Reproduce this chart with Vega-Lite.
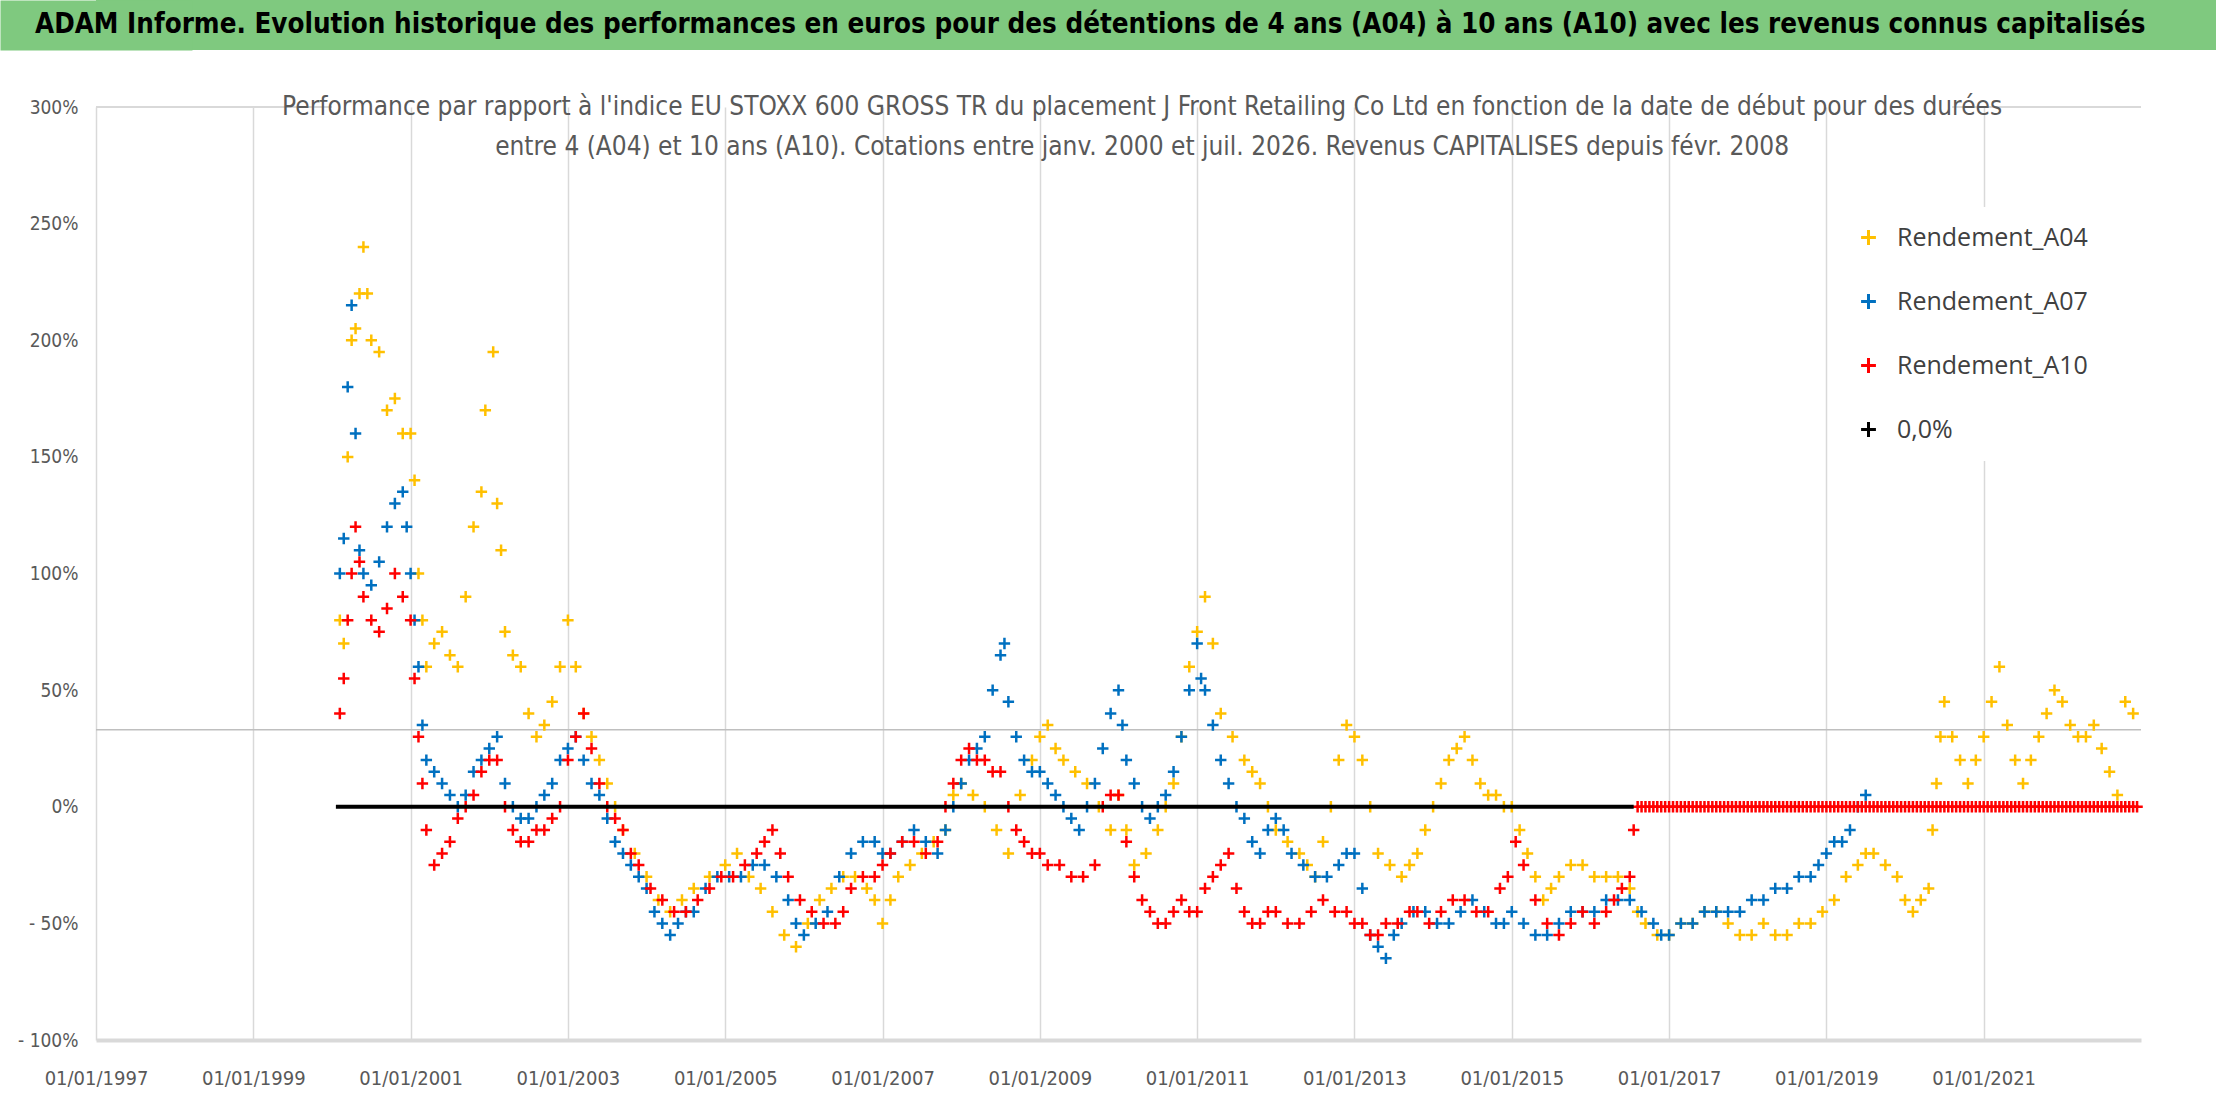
{
"$schema":"https://vega.github.io/schema/vega-lite/v6.json",
"padding":0,
"background":"white",
"spacing":44,
"config":{"view":{"stroke":null},"font":"Open Sans"},
"datasets":{
"a04":[{"t":2000.1,"v":0.8},{"t":2000.15,"v":0.7},{"t":2000.2,"v":1.5},{"t":2000.25,"v":2.0},{"t":2000.3,"v":2.05},{"t":2000.35,"v":2.2},{"t":2000.4,"v":2.4},{"t":2000.45,"v":2.2},{"t":2000.5,"v":2.0},{"t":2000.6,"v":1.95},{"t":2000.7,"v":1.7},{"t":2000.8,"v":1.75},{"t":2000.9,"v":1.6},{"t":2001.0,"v":1.6},{"t":2001.05,"v":1.4},{"t":2001.1,"v":1.0},{"t":2001.15,"v":0.8},{"t":2001.2,"v":0.6},{"t":2001.3,"v":0.7},{"t":2001.4,"v":0.75},{"t":2001.5,"v":0.65},{"t":2001.6,"v":0.6},{"t":2001.7,"v":0.9},{"t":2001.8,"v":1.2},{"t":2001.9,"v":1.35},{"t":2001.95,"v":1.7},{"t":2002.05,"v":1.95},{"t":2002.1,"v":1.3},{"t":2002.15,"v":1.1},{"t":2002.2,"v":0.75},{"t":2002.3,"v":0.65},{"t":2002.4,"v":0.6},{"t":2002.5,"v":0.4},{"t":2002.6,"v":0.3},{"t":2002.7,"v":0.35},{"t":2002.8,"v":0.45},{"t":2002.9,"v":0.6},{"t":2003.0,"v":0.8},{"t":2003.1,"v":0.6},{"t":2003.2,"v":0.4},{"t":2003.3,"v":0.3},{"t":2003.4,"v":0.2},{"t":2003.5,"v":0.1},{"t":2003.6,"v":0.0},{"t":2003.7,"v":-0.1},{"t":2003.85,"v":-0.2},{"t":2004.0,"v":-0.3},{"t":2004.15,"v":-0.4},{"t":2004.3,"v":-0.45},{"t":2004.45,"v":-0.4},{"t":2004.6,"v":-0.35},{"t":2004.8,"v":-0.3},{"t":2005.0,"v":-0.25},{"t":2005.15,"v":-0.2},{"t":2005.3,"v":-0.3},{"t":2005.45,"v":-0.35},{"t":2005.6,"v":-0.45},{"t":2005.75,"v":-0.55},{"t":2005.9,"v":-0.6},{"t":2006.05,"v":-0.5},{"t":2006.2,"v":-0.4},{"t":2006.35,"v":-0.35},{"t":2006.5,"v":-0.3},{"t":2006.65,"v":-0.3},{"t":2006.8,"v":-0.35},{"t":2006.9,"v":-0.4},{"t":2007.0,"v":-0.5},{"t":2007.1,"v":-0.4},{"t":2007.2,"v":-0.3},{"t":2007.35,"v":-0.25},{"t":2007.5,"v":-0.2},{"t":2007.65,"v":-0.15},{"t":2007.8,"v":-0.1},{"t":2007.9,"v":0.05},{"t":2008.0,"v":0.1},{"t":2008.15,"v":0.05},{"t":2008.3,"v":0.0},{"t":2008.45,"v":-0.1},{"t":2008.6,"v":-0.2},{"t":2008.75,"v":0.05},{"t":2008.9,"v":0.2},{"t":2009.0,"v":0.3},{"t":2009.1,"v":0.35},{"t":2009.2,"v":0.25},{"t":2009.3,"v":0.2},{"t":2009.45,"v":0.15},{"t":2009.6,"v":0.1},{"t":2009.75,"v":0.0},{"t":2009.9,"v":-0.1},{"t":2010.0,"v":0.05},{"t":2010.1,"v":-0.1},{"t":2010.2,"v":-0.25},{"t":2010.35,"v":-0.2},{"t":2010.5,"v":-0.1},{"t":2010.6,"v":0.0},{"t":2010.7,"v":0.1},{"t":2010.8,"v":0.3},{"t":2010.9,"v":0.6},{"t":2011.0,"v":0.75},{"t":2011.1,"v":0.9},{"t":2011.2,"v":0.7},{"t":2011.3,"v":0.4},{"t":2011.45,"v":0.3},{"t":2011.6,"v":0.2},{"t":2011.7,"v":0.15},{"t":2011.8,"v":0.1},{"t":2011.9,"v":0.0},{"t":2012.0,"v":-0.1},{"t":2012.15,"v":-0.15},{"t":2012.3,"v":-0.2},{"t":2012.4,"v":-0.25},{"t":2012.5,"v":-0.3},{"t":2012.6,"v":-0.15},{"t":2012.7,"v":0.0},{"t":2012.8,"v":0.2},{"t":2012.9,"v":0.35},{"t":2013.0,"v":0.3},{"t":2013.1,"v":0.2},{"t":2013.2,"v":0.0},{"t":2013.3,"v":-0.2},{"t":2013.45,"v":-0.25},{"t":2013.6,"v":-0.3},{"t":2013.7,"v":-0.25},{"t":2013.8,"v":-0.2},{"t":2013.9,"v":-0.1},{"t":2014.0,"v":0.0},{"t":2014.1,"v":0.1},{"t":2014.2,"v":0.2},{"t":2014.3,"v":0.25},{"t":2014.4,"v":0.3},{"t":2014.5,"v":0.2},{"t":2014.6,"v":0.1},{"t":2014.7,"v":0.05},{"t":2014.8,"v":0.05},{"t":2014.9,"v":0.0},{"t":2015.0,"v":0.0},{"t":2015.1,"v":-0.1},{"t":2015.2,"v":-0.2},{"t":2015.3,"v":-0.3},{"t":2015.4,"v":-0.4},{"t":2015.5,"v":-0.35},{"t":2015.6,"v":-0.3},{"t":2015.75,"v":-0.25},{"t":2015.9,"v":-0.25},{"t":2016.05,"v":-0.3},{"t":2016.2,"v":-0.3},{"t":2016.35,"v":-0.3},{"t":2016.5,"v":-0.35},{"t":2016.6,"v":-0.45},{"t":2016.7,"v":-0.5},{"t":2016.85,"v":-0.55},{"t":2017.0,"v":-0.55},{"t":2017.15,"v":-0.5},{"t":2017.3,"v":-0.5},{"t":2017.45,"v":-0.45},{"t":2017.6,"v":-0.45},{"t":2017.75,"v":-0.5},{"t":2017.9,"v":-0.55},{"t":2018.05,"v":-0.55},{"t":2018.2,"v":-0.5},{"t":2018.35,"v":-0.55},{"t":2018.5,"v":-0.55},{"t":2018.65,"v":-0.5},{"t":2018.8,"v":-0.5},{"t":2018.95,"v":-0.45},{"t":2019.1,"v":-0.4},{"t":2019.25,"v":-0.3},{"t":2019.4,"v":-0.25},{"t":2019.5,"v":-0.2},{"t":2019.6,"v":-0.2},{"t":2019.75,"v":-0.25},{"t":2019.9,"v":-0.3},{"t":2020.0,"v":-0.4},{"t":2020.1,"v":-0.45},{"t":2020.2,"v":-0.4},{"t":2020.3,"v":-0.35},{"t":2020.35,"v":-0.1},{"t":2020.4,"v":0.1},{"t":2020.45,"v":0.3},{"t":2020.5,"v":0.45},{"t":2020.6,"v":0.3},{"t":2020.7,"v":0.2},{"t":2020.8,"v":0.1},{"t":2020.9,"v":0.2},{"t":2021.0,"v":0.3},{"t":2021.1,"v":0.45},{"t":2021.2,"v":0.6},{"t":2021.3,"v":0.35},{"t":2021.4,"v":0.2},{"t":2021.5,"v":0.1},{"t":2021.6,"v":0.2},{"t":2021.7,"v":0.3},{"t":2021.8,"v":0.4},{"t":2021.9,"v":0.5},{"t":2022.0,"v":0.45},{"t":2022.1,"v":0.35},{"t":2022.2,"v":0.3},{"t":2022.3,"v":0.3},{"t":2022.4,"v":0.35},{"t":2022.5,"v":0.25},{"t":2022.6,"v":0.15},{"t":2022.7,"v":0.05},{"t":2022.8,"v":0.45},{"t":2022.9,"v":0.4}],
"a07":[{"t":2000.1,"v":1.0},{"t":2000.15,"v":1.15},{"t":2000.2,"v":1.8},{"t":2000.25,"v":2.15},{"t":2000.3,"v":1.6},{"t":2000.35,"v":1.1},{"t":2000.4,"v":1.0},{"t":2000.5,"v":0.95},{"t":2000.6,"v":1.05},{"t":2000.7,"v":1.2},{"t":2000.8,"v":1.3},{"t":2000.9,"v":1.35},{"t":2000.95,"v":1.2},{"t":2001.0,"v":1.0},{"t":2001.05,"v":0.8},{"t":2001.1,"v":0.6},{"t":2001.15,"v":0.35},{"t":2001.2,"v":0.2},{"t":2001.3,"v":0.15},{"t":2001.4,"v":0.1},{"t":2001.5,"v":0.05},{"t":2001.6,"v":0.0},{"t":2001.7,"v":0.05},{"t":2001.8,"v":0.15},{"t":2001.9,"v":0.2},{"t":2002.0,"v":0.25},{"t":2002.1,"v":0.3},{"t":2002.2,"v":0.1},{"t":2002.3,"v":0.0},{"t":2002.4,"v":-0.05},{"t":2002.5,"v":-0.05},{"t":2002.6,"v":0.0},{"t":2002.7,"v":0.05},{"t":2002.8,"v":0.1},{"t":2002.9,"v":0.2},{"t":2003.0,"v":0.25},{"t":2003.1,"v":0.3},{"t":2003.2,"v":0.2},{"t":2003.3,"v":0.1},{"t":2003.4,"v":0.05},{"t":2003.5,"v":-0.05},{"t":2003.6,"v":-0.15},{"t":2003.7,"v":-0.2},{"t":2003.8,"v":-0.25},{"t":2003.9,"v":-0.3},{"t":2004.0,"v":-0.35},{"t":2004.1,"v":-0.45},{"t":2004.2,"v":-0.5},{"t":2004.3,"v":-0.55},{"t":2004.4,"v":-0.5},{"t":2004.5,"v":-0.45},{"t":2004.6,"v":-0.45},{"t":2004.75,"v":-0.35},{"t":2004.9,"v":-0.3},{"t":2005.05,"v":-0.3},{"t":2005.2,"v":-0.3},{"t":2005.35,"v":-0.25},{"t":2005.5,"v":-0.25},{"t":2005.65,"v":-0.3},{"t":2005.8,"v":-0.4},{"t":2005.9,"v":-0.5},{"t":2006.0,"v":-0.55},{"t":2006.15,"v":-0.5},{"t":2006.3,"v":-0.45},{"t":2006.45,"v":-0.3},{"t":2006.6,"v":-0.2},{"t":2006.75,"v":-0.15},{"t":2006.9,"v":-0.15},{"t":2007.0,"v":-0.2},{"t":2007.1,"v":-0.2},{"t":2007.25,"v":-0.15},{"t":2007.4,"v":-0.1},{"t":2007.55,"v":-0.15},{"t":2007.7,"v":-0.2},{"t":2007.8,"v":-0.1},{"t":2007.9,"v":0.0},{"t":2008.0,"v":0.1},{"t":2008.1,"v":0.2},{"t":2008.2,"v":0.25},{"t":2008.3,"v":0.3},{"t":2008.4,"v":0.5},{"t":2008.5,"v":0.65},{"t":2008.55,"v":0.7},{"t":2008.6,"v":0.45},{"t":2008.7,"v":0.3},{"t":2008.8,"v":0.2},{"t":2008.9,"v":0.15},{"t":2009.0,"v":0.15},{"t":2009.1,"v":0.1},{"t":2009.2,"v":0.05},{"t":2009.3,"v":0.0},{"t":2009.4,"v":-0.05},{"t":2009.5,"v":-0.1},{"t":2009.6,"v":0.0},{"t":2009.7,"v":0.1},{"t":2009.8,"v":0.25},{"t":2009.9,"v":0.4},{"t":2010.0,"v":0.5},{"t":2010.05,"v":0.35},{"t":2010.1,"v":0.2},{"t":2010.2,"v":0.1},{"t":2010.3,"v":0.0},{"t":2010.4,"v":-0.05},{"t":2010.5,"v":0.0},{"t":2010.6,"v":0.05},{"t":2010.7,"v":0.15},{"t":2010.8,"v":0.3},{"t":2010.9,"v":0.5},{"t":2011.0,"v":0.7},{"t":2011.05,"v":0.55},{"t":2011.1,"v":0.5},{"t":2011.2,"v":0.35},{"t":2011.3,"v":0.2},{"t":2011.4,"v":0.1},{"t":2011.5,"v":0.0},{"t":2011.6,"v":-0.05},{"t":2011.7,"v":-0.15},{"t":2011.8,"v":-0.2},{"t":2011.9,"v":-0.1},{"t":2012.0,"v":-0.05},{"t":2012.1,"v":-0.1},{"t":2012.2,"v":-0.2},{"t":2012.35,"v":-0.25},{"t":2012.5,"v":-0.3},{"t":2012.65,"v":-0.3},{"t":2012.8,"v":-0.25},{"t":2012.9,"v":-0.2},{"t":2013.0,"v":-0.2},{"t":2013.1,"v":-0.35},{"t":2013.2,"v":-0.55},{"t":2013.3,"v":-0.6},{"t":2013.4,"v":-0.65},{"t":2013.5,"v":-0.55},{"t":2013.6,"v":-0.5},{"t":2013.75,"v":-0.45},{"t":2013.9,"v":-0.45},{"t":2014.05,"v":-0.5},{"t":2014.2,"v":-0.5},{"t":2014.35,"v":-0.45},{"t":2014.5,"v":-0.4},{"t":2014.65,"v":-0.45},{"t":2014.8,"v":-0.5},{"t":2014.9,"v":-0.5},{"t":2015.0,"v":-0.45},{"t":2015.15,"v":-0.5},{"t":2015.3,"v":-0.55},{"t":2015.45,"v":-0.55},{"t":2015.6,"v":-0.5},{"t":2015.75,"v":-0.45},{"t":2015.9,"v":-0.45},{"t":2016.05,"v":-0.45},{"t":2016.2,"v":-0.4},{"t":2016.35,"v":-0.4},{"t":2016.5,"v":-0.4},{"t":2016.65,"v":-0.45},{"t":2016.8,"v":-0.5},{"t":2016.9,"v":-0.55},{"t":2017.0,"v":-0.55},{"t":2017.15,"v":-0.5},{"t":2017.3,"v":-0.5},{"t":2017.45,"v":-0.45},{"t":2017.6,"v":-0.45},{"t":2017.75,"v":-0.45},{"t":2017.9,"v":-0.45},{"t":2018.05,"v":-0.4},{"t":2018.2,"v":-0.4},{"t":2018.35,"v":-0.35},{"t":2018.5,"v":-0.35},{"t":2018.65,"v":-0.3},{"t":2018.8,"v":-0.3},{"t":2018.9,"v":-0.25},{"t":2019.0,"v":-0.2},{"t":2019.1,"v":-0.15},{"t":2019.2,"v":-0.15},{"t":2019.3,"v":-0.1},{"t":2019.4,"v":0.0},{"t":2019.5,"v":0.05}],
"a10":[{"t":2000.1,"v":0.4},{"t":2000.15,"v":0.55},{"t":2000.2,"v":0.8},{"t":2000.25,"v":1.0},{"t":2000.3,"v":1.2},{"t":2000.35,"v":1.05},{"t":2000.4,"v":0.9},{"t":2000.5,"v":0.8},{"t":2000.6,"v":0.75},{"t":2000.7,"v":0.85},{"t":2000.8,"v":1.0},{"t":2000.9,"v":0.9},{"t":2001.0,"v":0.8},{"t":2001.05,"v":0.55},{"t":2001.1,"v":0.3},{"t":2001.15,"v":0.1},{"t":2001.2,"v":-0.1},{"t":2001.3,"v":-0.25},{"t":2001.4,"v":-0.2},{"t":2001.5,"v":-0.15},{"t":2001.6,"v":-0.05},{"t":2001.7,"v":0.0},{"t":2001.8,"v":0.05},{"t":2001.9,"v":0.15},{"t":2002.0,"v":0.2},{"t":2002.1,"v":0.2},{"t":2002.2,"v":0.0},{"t":2002.3,"v":-0.1},{"t":2002.4,"v":-0.15},{"t":2002.5,"v":-0.15},{"t":2002.6,"v":-0.1},{"t":2002.7,"v":-0.1},{"t":2002.8,"v":-0.05},{"t":2002.9,"v":0.0},{"t":2003.0,"v":0.2},{"t":2003.1,"v":0.3},{"t":2003.2,"v":0.4},{"t":2003.3,"v":0.25},{"t":2003.4,"v":0.1},{"t":2003.5,"v":0.0},{"t":2003.6,"v":-0.05},{"t":2003.7,"v":-0.1},{"t":2003.8,"v":-0.2},{"t":2003.9,"v":-0.25},{"t":2004.05,"v":-0.35},{"t":2004.2,"v":-0.4},{"t":2004.35,"v":-0.45},{"t":2004.5,"v":-0.45},{"t":2004.65,"v":-0.4},{"t":2004.8,"v":-0.35},{"t":2004.95,"v":-0.3},{"t":2005.1,"v":-0.3},{"t":2005.25,"v":-0.25},{"t":2005.4,"v":-0.2},{"t":2005.5,"v":-0.15},{"t":2005.6,"v":-0.1},{"t":2005.7,"v":-0.2},{"t":2005.8,"v":-0.3},{"t":2005.95,"v":-0.4},{"t":2006.1,"v":-0.45},{"t":2006.25,"v":-0.5},{"t":2006.4,"v":-0.5},{"t":2006.5,"v":-0.45},{"t":2006.6,"v":-0.35},{"t":2006.75,"v":-0.3},{"t":2006.9,"v":-0.3},{"t":2007.0,"v":-0.25},{"t":2007.1,"v":-0.2},{"t":2007.25,"v":-0.15},{"t":2007.4,"v":-0.15},{"t":2007.55,"v":-0.2},{"t":2007.7,"v":-0.15},{"t":2007.8,"v":0.0},{"t":2007.9,"v":0.1},{"t":2008.0,"v":0.2},{"t":2008.1,"v":0.25},{"t":2008.2,"v":0.2},{"t":2008.3,"v":0.2},{"t":2008.4,"v":0.15},{"t":2008.5,"v":0.15},{"t":2008.6,"v":0.0},{"t":2008.7,"v":-0.1},{"t":2008.8,"v":-0.15},{"t":2008.9,"v":-0.2},{"t":2009.0,"v":-0.2},{"t":2009.1,"v":-0.25},{"t":2009.25,"v":-0.25},{"t":2009.4,"v":-0.3},{"t":2009.55,"v":-0.3},{"t":2009.7,"v":-0.25},{"t":2009.8,"v":0.0},{"t":2009.9,"v":0.05},{"t":2010.0,"v":0.05},{"t":2010.1,"v":-0.15},{"t":2010.2,"v":-0.3},{"t":2010.3,"v":-0.4},{"t":2010.4,"v":-0.45},{"t":2010.5,"v":-0.5},{"t":2010.6,"v":-0.5},{"t":2010.7,"v":-0.45},{"t":2010.8,"v":-0.4},{"t":2010.9,"v":-0.45},{"t":2011.0,"v":-0.45},{"t":2011.1,"v":-0.35},{"t":2011.2,"v":-0.3},{"t":2011.3,"v":-0.25},{"t":2011.4,"v":-0.2},{"t":2011.5,"v":-0.35},{"t":2011.6,"v":-0.45},{"t":2011.7,"v":-0.5},{"t":2011.8,"v":-0.5},{"t":2011.9,"v":-0.45},{"t":2012.0,"v":-0.45},{"t":2012.15,"v":-0.5},{"t":2012.3,"v":-0.5},{"t":2012.45,"v":-0.45},{"t":2012.6,"v":-0.4},{"t":2012.75,"v":-0.45},{"t":2012.9,"v":-0.45},{"t":2013.0,"v":-0.5},{"t":2013.1,"v":-0.5},{"t":2013.2,"v":-0.55},{"t":2013.3,"v":-0.55},{"t":2013.4,"v":-0.5},{"t":2013.55,"v":-0.5},{"t":2013.7,"v":-0.45},{"t":2013.8,"v":-0.45},{"t":2013.95,"v":-0.5},{"t":2014.1,"v":-0.45},{"t":2014.25,"v":-0.4},{"t":2014.4,"v":-0.4},{"t":2014.55,"v":-0.45},{"t":2014.7,"v":-0.45},{"t":2014.85,"v":-0.35},{"t":2014.95,"v":-0.3},{"t":2015.05,"v":-0.15},{"t":2015.15,"v":-0.25},{"t":2015.3,"v":-0.4},{"t":2015.45,"v":-0.5},{"t":2015.6,"v":-0.55},{"t":2015.75,"v":-0.5},{"t":2015.9,"v":-0.45},{"t":2016.05,"v":-0.5},{"t":2016.2,"v":-0.45},{"t":2016.3,"v":-0.4},{"t":2016.4,"v":-0.35},{"t":2016.5,"v":-0.3},{"t":2016.55,"v":-0.1},{"t":2016.6,"v":0},{"t":2016.65,"v":0},{"t":2016.7,"v":0},{"t":2016.75,"v":0},{"t":2016.8,"v":0},{"t":2016.85,"v":0},{"t":2016.9,"v":0},{"t":2016.95,"v":0},{"t":2017.0,"v":0},{"t":2017.05,"v":0},{"t":2017.1,"v":0},{"t":2017.15,"v":0},{"t":2017.2,"v":0},{"t":2017.25,"v":0},{"t":2017.3,"v":0},{"t":2017.35,"v":0},{"t":2017.4,"v":0},{"t":2017.45,"v":0},{"t":2017.5,"v":0},{"t":2017.55,"v":0},{"t":2017.6,"v":0},{"t":2017.65,"v":0},{"t":2017.7,"v":0},{"t":2017.75,"v":0},{"t":2017.8,"v":0},{"t":2017.85,"v":0},{"t":2017.9,"v":0},{"t":2017.95,"v":0},{"t":2018.0,"v":0},{"t":2018.05,"v":0},{"t":2018.1,"v":0},{"t":2018.15,"v":0},{"t":2018.2,"v":0},{"t":2018.25,"v":0},{"t":2018.3,"v":0},{"t":2018.35,"v":0},{"t":2018.4,"v":0},{"t":2018.45,"v":0},{"t":2018.5,"v":0},{"t":2018.55,"v":0},{"t":2018.6,"v":0},{"t":2018.65,"v":0},{"t":2018.7,"v":0},{"t":2018.75,"v":0},{"t":2018.8,"v":0},{"t":2018.85,"v":0},{"t":2018.9,"v":0},{"t":2018.95,"v":0},{"t":2019.0,"v":0},{"t":2019.05,"v":0},{"t":2019.1,"v":0},{"t":2019.15,"v":0},{"t":2019.2,"v":0},{"t":2019.25,"v":0},{"t":2019.3,"v":0},{"t":2019.35,"v":0},{"t":2019.4,"v":0},{"t":2019.45,"v":0},{"t":2019.5,"v":0},{"t":2019.55,"v":0},{"t":2019.6,"v":0},{"t":2019.65,"v":0},{"t":2019.7,"v":0},{"t":2019.75,"v":0},{"t":2019.8,"v":0},{"t":2019.85,"v":0},{"t":2019.9,"v":0},{"t":2019.95,"v":0},{"t":2020.0,"v":0},{"t":2020.05,"v":0},{"t":2020.1,"v":0},{"t":2020.15,"v":0},{"t":2020.2,"v":0},{"t":2020.25,"v":0},{"t":2020.3,"v":0},{"t":2020.35,"v":0},{"t":2020.4,"v":0},{"t":2020.45,"v":0},{"t":2020.5,"v":0},{"t":2020.55,"v":0},{"t":2020.6,"v":0},{"t":2020.65,"v":0},{"t":2020.7,"v":0},{"t":2020.75,"v":0},{"t":2020.8,"v":0},{"t":2020.85,"v":0},{"t":2020.9,"v":0},{"t":2020.95,"v":0},{"t":2021.0,"v":0},{"t":2021.05,"v":0},{"t":2021.1,"v":0},{"t":2021.15,"v":0},{"t":2021.2,"v":0},{"t":2021.25,"v":0},{"t":2021.3,"v":0},{"t":2021.35,"v":0},{"t":2021.4,"v":0},{"t":2021.45,"v":0},{"t":2021.5,"v":0},{"t":2021.55,"v":0},{"t":2021.6,"v":0},{"t":2021.65,"v":0},{"t":2021.7,"v":0},{"t":2021.75,"v":0},{"t":2021.8,"v":0},{"t":2021.85,"v":0},{"t":2021.9,"v":0},{"t":2021.95,"v":0},{"t":2022.0,"v":0},{"t":2022.05,"v":0},{"t":2022.1,"v":0},{"t":2022.15,"v":0},{"t":2022.2,"v":0},{"t":2022.25,"v":0},{"t":2022.3,"v":0},{"t":2022.35,"v":0},{"t":2022.4,"v":0},{"t":2022.45,"v":0},{"t":2022.5,"v":0},{"t":2022.55,"v":0},{"t":2022.6,"v":0},{"t":2022.65,"v":0},{"t":2022.7,"v":0},{"t":2022.75,"v":0},{"t":2022.8,"v":0},{"t":2022.85,"v":0},{"t":2022.9,"v":0},{"t":2022.95,"v":0}],
"zero":[{"t":2000.05,"v":0},{"t":2016.55,"v":0}],
"one":[{"k":1}]
},
"vconcat":[
{"width":2120,"height":50,"view":{"fill":"#7FC97F","stroke":null},
 "data":{"values":[{"txt":"ADAM Informe. Evolution historique des performances en euros pour des détentions de 4 ans (A04) à 10 ans (A10) avec les revenus connus capitalisés"}]},
 "mark":{"type":"text","font":"DejaVu Sans Condensed","fontWeight":"bold","fontSize":27.5,"color":"black","align":"left","baseline":"middle","x":-61},
 "encoding":{"text":{"field":"txt"},
   "y":{"datum":0.5,"type":"quantitative","scale":{"domain":[0,1]},"axis":{"domain":true,"domainColor":"#7FC97F","domainWidth":192,"labels":false,"ticks":false,"grid":false,"title":null,"minExtent":96,"maxExtent":96}}}},
{"width":2045,"height":933,
 "encoding":{
   "x":{"type":"quantitative","scale":{"domain":[1997,2023],"nice":false,"zero":false},
     "axis":{"values":[1997,1999,2001,2003,2005,2007,2009,2011,2013,2015,2017,2019,2021],"labelExpr":"'01/01/' + datum.value","labelOverlap":false,"labelFlush":false,"title":null,"grid":true,"gridColor":"#D9D9D9","gridWidth":1.5,"domainColor":"#D9D9D9","domainWidth":4,"ticks":false,"labelFontSize":20,"labelColor":"#595959","labelPadding":28,"labelFont":"DejaVu Sans Condensed"}},
   "y":{"type":"quantitative","scale":{"domain":[-1,3],"nice":false,"zero":false},
     "axis":{"values":[-1,-0.5,0,0.5,1,1.5,2,2.5,3],"labelExpr":"datum.value < 0 ? '- ' + format(-datum.value,'.0%') : format(datum.value,'.0%')","title":null,"grid":false,"domain":false,"ticks":false,"labelFontSize":19,"labelColor":"#595959","labelPadding":18,"minExtent":96,"maxExtent":96,"labelFont":"DejaVu Sans Condensed"}}},
 "layer":[
  {"data":{"name":"one"},"mark":{"type":"rule","color":"#D9D9D9","strokeWidth":2},"encoding":{"x":{"datum":1997},"x2":{"datum":2000.0},"y":{"datum":3}}},
  {"data":{"name":"one"},"mark":{"type":"rule","color":"#D9D9D9","strokeWidth":2},"encoding":{"x":{"datum":2020.6},"x2":{"datum":2023},"y":{"datum":3}}},
  {"data":{"name":"one"},"mark":{"type":"rule","color":"#BFBFBF","strokeWidth":1.5},"encoding":{"x":{"datum":1997},"x2":{"datum":2023},"y":{"datum":0.33}}},
  {"data":{"name":"a04"},"mark":{"type":"point","shape":"M-1,0L1,0M0,-1L0,1","filled":false,"size":130,"strokeWidth":2.5,"opacity":1},
   "encoding":{"x":{"field":"t"},"y":{"field":"v"},"color":{"datum":"Rendement_A04","type":"nominal"}}},
  {"data":{"name":"a07"},"mark":{"type":"point","shape":"M-1,0L1,0M0,-1L0,1","filled":false,"size":130,"strokeWidth":2.5,"opacity":1},
   "encoding":{"x":{"field":"t"},"y":{"field":"v"},"color":{"datum":"Rendement_A07","type":"nominal"}}},
  {"data":{"name":"a10"},"mark":{"type":"point","shape":"M-1,0L1,0M0,-1L0,1","filled":false,"size":130,"strokeWidth":2.5,"opacity":1},
   "encoding":{"x":{"field":"t"},"y":{"field":"v"},
    "color":{"datum":"Rendement_A10","type":"nominal",
     "scale":{"domain":["Rendement_A04","Rendement_A07","Rendement_A10","0,0%"],"range":["#FFC000","#0070C0","#FF0000","#000000"]},
     "legend":{"title":null,"orient":"none","legendX":1742,"legendY":207,"fillColor":"white","padding":18,"labelFontSize":25,"labelColor":"#404040","labelFont":"Open Sans","labelLimit":0,"rowPadding":37,"symbolSize":220,"symbolStrokeWidth":3,"symbolType":"M-1,0L1,0M0,-1L0,1","labelOffset":16}}}},
  {"data":{"name":"zero"},"mark":{"type":"line","strokeWidth":4},
   "encoding":{"x":{"field":"t"},"y":{"field":"v"},"color":{"datum":"0,0%","type":"nominal"}}},
  {"data":{"name":"one"},"mark":{"type":"text","fontSize":26,"color":"#595959","font":"DejaVu Sans Condensed","baseline":"middle","text":"Performance par rapport à l'indice EU STOXX 600 GROSS TR  du placement J Front Retailing Co Ltd en fonction de la date de début pour des durées"},
   "encoding":{"x":{"datum":2010.3},"y":{"datum":3.0}}},
  {"data":{"name":"one"},"mark":{"type":"text","fontSize":26,"color":"#595959","font":"DejaVu Sans Condensed","baseline":"middle","text":"entre 4 (A04) et 10 ans (A10). Cotations entre janv. 2000 et juil. 2026. Revenus CAPITALISES depuis févr. 2008"},
   "encoding":{"x":{"datum":2010.3},"y":{"datum":2.83}}}
 ]}
]
}
